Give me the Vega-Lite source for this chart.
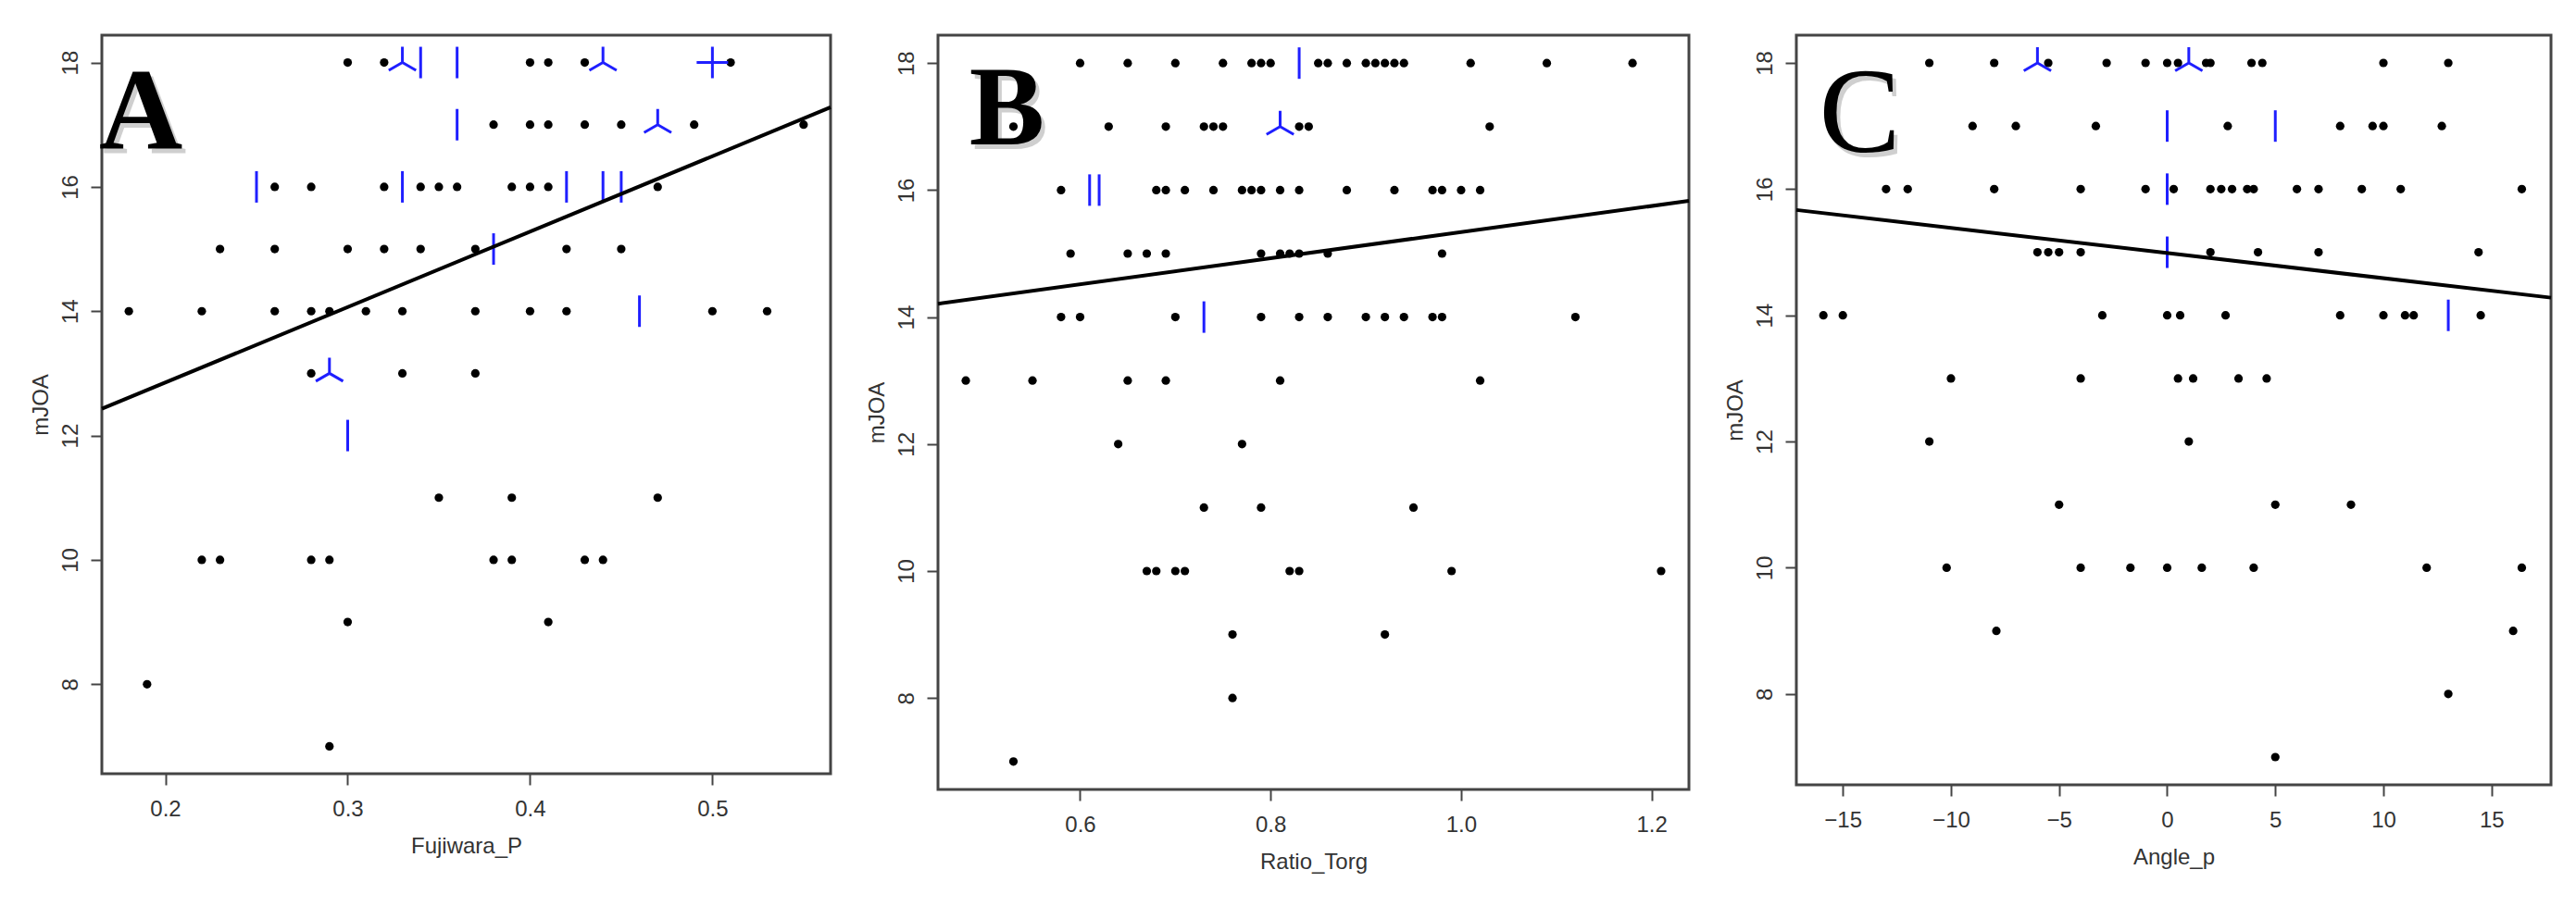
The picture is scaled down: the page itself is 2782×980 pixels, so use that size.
{
  "$schema": "https://vega.github.io/schema/vega-lite/v6.json",
  "background": "white",
  "padding": {"left": 30, "top": 36, "right": 5, "bottom": 5},
  "spacing": 116,
  "bounds": "flush",
  "config": {
    "view": {"stroke": "#444", "strokeWidth": 3},
    "axis": {"domain": false, "grid": false, "tickSize": 12, "tickWidth": 2, "tickColor": "#444", "labelFont": "Liberation Sans", "labelFontSize": 24, "labelColor": "#333", "titleFont": "Liberation Sans", "titleFontSize": 24, "titleFontWeight": "normal", "titleColor": "#333"},
    "axisX": {"labelPadding": 14, "titlePadding": 16, "labelAngle": 0},
    "axisY": {"labelAngle": -90, "labelAlign": "center", "labelBaseline": "bottom", "labelPadding": 10, "titlePadding": 8}
  },
  "datasets": {
    "A": [
      {"x":0.30,"y":18,"n":1},{"x":0.32,"y":18,"n":1},{"x":0.33,"y":18,"n":3},{"x":0.34,"y":18,"n":2},{"x":0.36,"y":18,"n":2},{"x":0.40,"y":18,"n":1},{"x":0.41,"y":18,"n":1},{"x":0.43,"y":18,"n":1},{"x":0.44,"y":18,"n":3},{"x":0.50,"y":18,"n":4},{"x":0.51,"y":18,"n":1},
      {"x":0.36,"y":17,"n":2},{"x":0.38,"y":17,"n":1},{"x":0.40,"y":17,"n":1},{"x":0.41,"y":17,"n":1},{"x":0.43,"y":17,"n":1},{"x":0.45,"y":17,"n":1},{"x":0.47,"y":17,"n":3},{"x":0.49,"y":17,"n":1},{"x":0.55,"y":17,"n":1},
      {"x":0.25,"y":16,"n":2},{"x":0.26,"y":16,"n":1},{"x":0.28,"y":16,"n":1},{"x":0.32,"y":16,"n":1},{"x":0.33,"y":16,"n":2},{"x":0.34,"y":16,"n":1},{"x":0.35,"y":16,"n":1},{"x":0.36,"y":16,"n":1},{"x":0.39,"y":16,"n":1},{"x":0.40,"y":16,"n":1},{"x":0.41,"y":16,"n":1},{"x":0.42,"y":16,"n":2},{"x":0.44,"y":16,"n":2},{"x":0.45,"y":16,"n":2},{"x":0.47,"y":16,"n":1},
      {"x":0.23,"y":15,"n":1},{"x":0.26,"y":15,"n":1},{"x":0.30,"y":15,"n":1},{"x":0.32,"y":15,"n":1},{"x":0.34,"y":15,"n":1},{"x":0.37,"y":15,"n":1},{"x":0.38,"y":15,"n":2},{"x":0.42,"y":15,"n":1},{"x":0.45,"y":15,"n":1},
      {"x":0.18,"y":14,"n":1},{"x":0.22,"y":14,"n":1},{"x":0.26,"y":14,"n":1},{"x":0.28,"y":14,"n":1},{"x":0.29,"y":14,"n":1},{"x":0.31,"y":14,"n":1},{"x":0.33,"y":14,"n":1},{"x":0.37,"y":14,"n":1},{"x":0.40,"y":14,"n":1},{"x":0.42,"y":14,"n":1},{"x":0.46,"y":14,"n":2},{"x":0.50,"y":14,"n":1},{"x":0.53,"y":14,"n":1},
      {"x":0.28,"y":13,"n":1},{"x":0.29,"y":13,"n":3},{"x":0.33,"y":13,"n":1},{"x":0.37,"y":13,"n":1},
      {"x":0.30,"y":12,"n":2},
      {"x":0.35,"y":11,"n":1},{"x":0.39,"y":11,"n":1},{"x":0.47,"y":11,"n":1},
      {"x":0.22,"y":10,"n":1},{"x":0.23,"y":10,"n":1},{"x":0.28,"y":10,"n":1},{"x":0.29,"y":10,"n":1},{"x":0.38,"y":10,"n":1},{"x":0.39,"y":10,"n":1},{"x":0.43,"y":10,"n":1},{"x":0.44,"y":10,"n":1},
      {"x":0.30,"y":9,"n":1},{"x":0.41,"y":9,"n":1},
      {"x":0.19,"y":8,"n":1},
      {"x":0.29,"y":7,"n":1}
    ],
    "B": [
      {"x":0.60,"y":18,"n":1},{"x":0.65,"y":18,"n":1},{"x":0.70,"y":18,"n":1},{"x":0.75,"y":18,"n":1},{"x":0.78,"y":18,"n":1},{"x":0.79,"y":18,"n":1},{"x":0.80,"y":18,"n":1},{"x":0.83,"y":18,"n":2},{"x":0.85,"y":18,"n":1},{"x":0.86,"y":18,"n":1},{"x":0.88,"y":18,"n":1},{"x":0.90,"y":18,"n":1},{"x":0.91,"y":18,"n":1},{"x":0.92,"y":18,"n":1},{"x":0.93,"y":18,"n":1},{"x":0.94,"y":18,"n":1},{"x":1.01,"y":18,"n":1},{"x":1.09,"y":18,"n":1},{"x":1.18,"y":18,"n":1},
      {"x":0.53,"y":17,"n":1},{"x":0.63,"y":17,"n":1},{"x":0.69,"y":17,"n":1},{"x":0.73,"y":17,"n":1},{"x":0.74,"y":17,"n":1},{"x":0.75,"y":17,"n":1},{"x":0.81,"y":17,"n":3},{"x":0.83,"y":17,"n":1},{"x":0.84,"y":17,"n":1},{"x":1.03,"y":17,"n":1},
      {"x":0.58,"y":16,"n":1},{"x":0.61,"y":16,"n":2},{"x":0.62,"y":16,"n":2},{"x":0.68,"y":16,"n":1},{"x":0.69,"y":16,"n":1},{"x":0.71,"y":16,"n":1},{"x":0.74,"y":16,"n":1},{"x":0.77,"y":16,"n":1},{"x":0.78,"y":16,"n":1},{"x":0.79,"y":16,"n":1},{"x":0.81,"y":16,"n":1},{"x":0.83,"y":16,"n":1},{"x":0.88,"y":16,"n":1},{"x":0.93,"y":16,"n":1},{"x":0.97,"y":16,"n":1},{"x":0.98,"y":16,"n":1},{"x":1.00,"y":16,"n":1},{"x":1.02,"y":16,"n":1},
      {"x":0.59,"y":15,"n":1},{"x":0.65,"y":15,"n":1},{"x":0.67,"y":15,"n":1},{"x":0.69,"y":15,"n":1},{"x":0.79,"y":15,"n":1},{"x":0.81,"y":15,"n":1},{"x":0.82,"y":15,"n":1},{"x":0.83,"y":15,"n":1},{"x":0.86,"y":15,"n":1},{"x":0.98,"y":15,"n":1},
      {"x":0.58,"y":14,"n":1},{"x":0.60,"y":14,"n":1},{"x":0.70,"y":14,"n":1},{"x":0.73,"y":14,"n":2},{"x":0.79,"y":14,"n":1},{"x":0.83,"y":14,"n":1},{"x":0.86,"y":14,"n":1},{"x":0.90,"y":14,"n":1},{"x":0.92,"y":14,"n":1},{"x":0.94,"y":14,"n":1},{"x":0.97,"y":14,"n":1},{"x":0.98,"y":14,"n":1},{"x":1.12,"y":14,"n":1},
      {"x":0.48,"y":13,"n":1},{"x":0.55,"y":13,"n":1},{"x":0.65,"y":13,"n":1},{"x":0.69,"y":13,"n":1},{"x":0.81,"y":13,"n":1},{"x":1.02,"y":13,"n":1},
      {"x":0.64,"y":12,"n":1},{"x":0.77,"y":12,"n":1},
      {"x":0.73,"y":11,"n":1},{"x":0.79,"y":11,"n":1},{"x":0.95,"y":11,"n":1},
      {"x":0.67,"y":10,"n":1},{"x":0.68,"y":10,"n":1},{"x":0.70,"y":10,"n":1},{"x":0.71,"y":10,"n":1},{"x":0.82,"y":10,"n":1},{"x":0.83,"y":10,"n":1},{"x":0.99,"y":10,"n":1},{"x":1.21,"y":10,"n":1},
      {"x":0.76,"y":9,"n":1},{"x":0.92,"y":9,"n":1},
      {"x":0.76,"y":8,"n":1},
      {"x":0.53,"y":7,"n":1}
    ],
    "C": [
      {"x":-11,"y":18,"n":1},{"x":-8,"y":18,"n":1},{"x":-6,"y":18,"n":3},{"x":-5.5,"y":18,"n":1},{"x":-2.8,"y":18,"n":1},{"x":-1,"y":18,"n":1},{"x":0,"y":18,"n":1},{"x":0.5,"y":18,"n":1},{"x":1,"y":18,"n":3},{"x":1.8,"y":18,"n":1},{"x":2,"y":18,"n":1},{"x":3.9,"y":18,"n":1},{"x":4.4,"y":18,"n":1},{"x":10,"y":18,"n":1},{"x":13,"y":18,"n":1},
      {"x":-9,"y":17,"n":1},{"x":-7,"y":17,"n":1},{"x":-3.3,"y":17,"n":1},{"x":0,"y":17,"n":2},{"x":2.8,"y":17,"n":1},{"x":5,"y":17,"n":2},{"x":8,"y":17,"n":1},{"x":9.5,"y":17,"n":1},{"x":10,"y":17,"n":1},{"x":12.7,"y":17,"n":1},
      {"x":-13,"y":16,"n":1},{"x":-12,"y":16,"n":1},{"x":-8,"y":16,"n":1},{"x":-4,"y":16,"n":1},{"x":-1,"y":16,"n":1},{"x":0,"y":16,"n":2},{"x":0.3,"y":16,"n":1},{"x":2,"y":16,"n":1},{"x":2.5,"y":16,"n":1},{"x":3,"y":16,"n":1},{"x":3.7,"y":16,"n":1},{"x":4,"y":16,"n":1},{"x":6,"y":16,"n":1},{"x":7,"y":16,"n":1},{"x":9,"y":16,"n":1},{"x":10.8,"y":16,"n":1},{"x":16.4,"y":16,"n":1},
      {"x":-6,"y":15,"n":1},{"x":-5.5,"y":15,"n":1},{"x":-5,"y":15,"n":1},{"x":-4,"y":15,"n":1},{"x":0,"y":15,"n":2},{"x":2,"y":15,"n":1},{"x":4.2,"y":15,"n":1},{"x":7,"y":15,"n":1},{"x":14.4,"y":15,"n":1},
      {"x":-15.9,"y":14,"n":1},{"x":-15,"y":14,"n":1},{"x":-3,"y":14,"n":1},{"x":0,"y":14,"n":1},{"x":0.6,"y":14,"n":1},{"x":2.7,"y":14,"n":1},{"x":8,"y":14,"n":1},{"x":10,"y":14,"n":1},{"x":11,"y":14,"n":1},{"x":11.4,"y":14,"n":1},{"x":13,"y":14,"n":2},{"x":14.5,"y":14,"n":1},
      {"x":-10,"y":13,"n":1},{"x":-4,"y":13,"n":1},{"x":0.5,"y":13,"n":1},{"x":1.2,"y":13,"n":1},{"x":3.3,"y":13,"n":1},{"x":4.6,"y":13,"n":1},
      {"x":-11,"y":12,"n":1},{"x":1,"y":12,"n":1},
      {"x":-5,"y":11,"n":1},{"x":5,"y":11,"n":1},{"x":8.5,"y":11,"n":1},
      {"x":-10.2,"y":10,"n":1},{"x":-4,"y":10,"n":1},{"x":-1.7,"y":10,"n":1},{"x":0,"y":10,"n":1},{"x":1.6,"y":10,"n":1},{"x":4,"y":10,"n":1},{"x":12,"y":10,"n":1},{"x":16.4,"y":10,"n":1},
      {"x":-7.9,"y":9,"n":1},{"x":16,"y":9,"n":1},
      {"x":13,"y":8,"n":1},
      {"x":5,"y":7,"n":1}
    ],
    "fitA": [{"x":0.1652,"y":12.43},{"x":0.5648,"y":17.28}],
    "fitB": [{"x":0.4508,"y":14.21},{"x":1.2392,"y":15.83}],
    "fitC": [{"x":-17.15,"y":15.67},{"x":17.75,"y":14.28}],
    "labA": [{"x":0.1637,"y":16.63,"label":"A"}],
    "labB": [{"x":0.4837,"y":16.72,"label":"B"}],
    "labC": [{"x":-16.1,"y":16.59,"label":"C"}]
  },
  "hconcat": [
    {
      "width": 787, "height": 798,
      "encoding": {
        "x": {"field": "x", "type": "quantitative", "title": "Fujiwara_P", "scale": {"domain": [0.1652, 0.5648], "nice": false, "zero": false}, "axis": {"values": [0.2, 0.3, 0.4, 0.5], "format": ".1f"}},
        "y": {"field": "y", "type": "quantitative", "title": "mJOA", "scale": {"domain": [6.56, 18.44], "nice": false, "zero": false}, "axis": {"values": [8, 10, 12, 14, 16, 18]}}
      },
      "layer": [
        {"data": {"name": "A"}, "transform": [{"filter": "datum.n == 1"}], "mark": {"type": "point", "filled": true, "shape": "circle", "size": 85, "color": "black", "opacity": 1}},
        {"data": {"name": "A"}, "transform": [{"filter": "datum.n > 1"}], "mark": {"type": "point", "filled": false, "size": 1156, "stroke": "#1f1fff", "strokeWidth": 3, "opacity": 1},
         "encoding": {"shape": {"field": "n", "type": "nominal", "legend": null, "scale": {"domain": [2, 3, 4], "range": ["M0,-1L0,1", "M0,0L0,-1M0,0L-0.866,0.5M0,0L0.866,0.5", "M0,-1L0,1M-1,0L1,0"]}}}},
        {"data": {"name": "fitA"}, "mark": {"type": "line", "color": "black", "strokeWidth": 4}},
        {"data": {"name": "labA"}, "mark": {"type": "text", "font": "Liberation Serif", "fontWeight": "bold", "fontSize": 125, "align": "left", "baseline": "alphabetic", "color": "#777", "opacity": 0.35, "dx": 4, "dy": 5}, "encoding": {"text": {"field": "label"}}},
        {"data": {"name": "labA"}, "mark": {"type": "text", "font": "Liberation Serif", "fontWeight": "bold", "fontSize": 125, "align": "left", "baseline": "alphabetic", "color": "black"}, "encoding": {"text": {"field": "label"}}}
      ]
    },
    {
      "width": 811, "height": 815,
      "encoding": {
        "x": {"field": "x", "type": "quantitative", "title": "Ratio_Torg", "scale": {"domain": [0.4508, 1.2392], "nice": false, "zero": false}, "axis": {"values": [0.6, 0.8, 1.0, 1.2], "format": ".1f"}},
        "y": {"field": "y", "type": "quantitative", "title": "mJOA", "scale": {"domain": [6.56, 18.44], "nice": false, "zero": false}, "axis": {"values": [8, 10, 12, 14, 16, 18]}}
      },
      "layer": [
        {"data": {"name": "B"}, "transform": [{"filter": "datum.n == 1"}], "mark": {"type": "point", "filled": true, "shape": "circle", "size": 85, "color": "black", "opacity": 1}},
        {"data": {"name": "B"}, "transform": [{"filter": "datum.n > 1"}], "mark": {"type": "point", "filled": false, "size": 1156, "stroke": "#1f1fff", "strokeWidth": 3, "opacity": 1},
         "encoding": {"shape": {"field": "n", "type": "nominal", "legend": null, "scale": {"domain": [2, 3, 4], "range": ["M0,-1L0,1", "M0,0L0,-1M0,0L-0.866,0.5M0,0L0.866,0.5", "M0,-1L0,1M-1,0L1,0"]}}}},
        {"data": {"name": "fitB"}, "mark": {"type": "line", "color": "black", "strokeWidth": 4}},
        {"data": {"name": "labB"}, "mark": {"type": "text", "font": "Liberation Serif", "fontWeight": "bold", "fontSize": 122, "align": "left", "baseline": "alphabetic", "color": "#777", "opacity": 0.35, "dx": 4, "dy": 5}, "encoding": {"text": {"field": "label"}}},
        {"data": {"name": "labB"}, "mark": {"type": "text", "font": "Liberation Serif", "fontWeight": "bold", "fontSize": 122, "align": "left", "baseline": "alphabetic", "color": "black"}, "encoding": {"text": {"field": "label"}}}
      ]
    },
    {
      "width": 815, "height": 810,
      "encoding": {
        "x": {"field": "x", "type": "quantitative", "title": "Angle_p", "scale": {"domain": [-17.15, 17.75], "nice": false, "zero": false}, "axis": {"values": [-15, -10, -5, 0, 5, 10, 15]}},
        "y": {"field": "y", "type": "quantitative", "title": "mJOA", "scale": {"domain": [6.56, 18.44], "nice": false, "zero": false}, "axis": {"values": [8, 10, 12, 14, 16, 18]}}
      },
      "layer": [
        {"data": {"name": "C"}, "transform": [{"filter": "datum.n == 1"}], "mark": {"type": "point", "filled": true, "shape": "circle", "size": 85, "color": "black", "opacity": 1}},
        {"data": {"name": "C"}, "transform": [{"filter": "datum.n > 1"}], "mark": {"type": "point", "filled": false, "size": 1156, "stroke": "#1f1fff", "strokeWidth": 3, "opacity": 1},
         "encoding": {"shape": {"field": "n", "type": "nominal", "legend": null, "scale": {"domain": [2, 3, 4], "range": ["M0,-1L0,1", "M0,0L0,-1M0,0L-0.866,0.5M0,0L0.866,0.5", "M0,-1L0,1M-1,0L1,0"]}}}},
        {"data": {"name": "fitC"}, "mark": {"type": "line", "color": "black", "strokeWidth": 4}},
        {"data": {"name": "labC"}, "mark": {"type": "text", "font": "Liberation Serif", "fontWeight": "normal", "fontSize": 132, "align": "left", "baseline": "alphabetic", "color": "#777", "opacity": 0.35, "dx": 4, "dy": 5}, "encoding": {"text": {"field": "label"}}},
        {"data": {"name": "labC"}, "mark": {"type": "text", "font": "Liberation Serif", "fontWeight": "normal", "fontSize": 132, "align": "left", "baseline": "alphabetic", "color": "black"}, "encoding": {"text": {"field": "label"}}}
      ]
    }
  ]
}
